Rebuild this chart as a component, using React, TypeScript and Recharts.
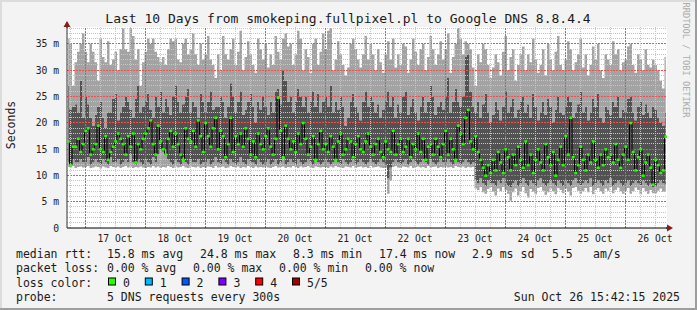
import { ComposedChart, Area, Line, XAxis, YAxis, ReferenceLine } from 'recharts';

// hours from the left edge of the graph to 17 Oct 00:00
const FIRST_MIDNIGHT = 7.2;
const HOURS = 240;
const MONO = '"DejaVu Sans Mono", monospace';

const dayLabels = ['17 Oct', '18 Oct', '19 Oct', '20 Oct', '21 Oct', '22 Oct', '23 Oct', '24 Oct', '25 Oct', '26 Oct'];
const yTicks = [0, 5, 10, 15, 20, 25, 30, 35];

// hourly rtt values in ms, from 16 Oct ~17:00 to 26 Oct ~16:00
const pingMin = [
  11.6, 11.5, 11.8, 11.4, 11.6, 11.7, 11.5,
  11.6, 11.8, 11.4, 11.5, 11.7, 11.6, 11.3, 11.7, 11.5, 11.4, 11.8, 11.6, 11.5, 11.7, 11.4, 11.6, 11.8, 11.5, 11.7, 11.4, 11.6, 11.5, 11.7, 11.5,
  11.4, 11.6, 11.5, 11.8, 11.5, 11.7, 11.4, 11.6, 11.5, 11.8, 11.6, 11.4, 11.7, 11.5, 11.6, 11.8, 11.5, 11.4, 11.7, 11.6, 11.5, 11.7, 11.4, 11.6,
  11.5, 11.7, 11.6, 11.4, 11.8, 11.5, 11.6, 11.7, 11.4, 11.5, 11.8, 11.6, 11.5, 11.7, 11.4, 11.6, 11.5, 11.8, 11.6, 11.4, 11.7, 11.5, 11.6, 11.5,
  11.7, 11.5, 11.4, 11.6, 11.8, 11.5, 11.6, 11.7, 11.4, 11.6, 11.5, 11.8, 11.6, 11.4, 11.7, 11.5, 11.6, 11.8, 11.5, 11.4, 11.7, 11.6, 11.5, 11.6,
  11.6, 11.4, 11.7, 11.5, 11.8, 11.6, 11.5, 11.4, 11.7, 11.6, 11.5, 11.8, 11.4, 11.6, 11.7, 11.5, 11.6, 11.4, 11.8, 11.5, 11.6, 11.7, 11.5, 11.4,
  11.5, 6.5, 9, 11.6, 11.8, 11.5, 11.4, 11.7, 11.6, 11.5, 11.8, 11.4, 11.6, 11.7, 11.5, 11.6, 11.4, 11.8, 11.5, 11.6, 11.7, 11.4, 11.6, 11.5,
  11.7, 11.5, 11.6, 11.4, 11.8, 11.6, 11.5, 11.7, 11.4, 11.6, 11.5, 11.6, 7.5, 7.2, 7.8, 6.8, 6.5, 7.4, 7.8, 6.9, 6.2, 7.5, 7, 7.8,
  7.2, 6.5, 5.2, 6.8, 7.5, 6.2, 7, 7.8, 6.6, 5.8, 7.4, 6.9, 6.4, 7.6, 7.8, 7.1, 6.3, 6.8, 7.5, 7, 6.4, 7.6, 7.2, 6.6,
  7.5, 6.9, 6.2, 7.6, 7.8, 7.1, 6.5, 7, 7.6, 6.8, 7.8, 6.4, 7.2, 7.6, 7, 6.5, 7.5, 7.1, 7.8, 6.6, 7.2, 7.7, 7, 6.5,
  7.1, 7.6, 6.5, 7, 7.7, 7.2, 6.4, 7.6, 7, 6.5, 7.2, 6.6, 6.6, 7.1, 7.5, 6.9, 6.9,
];

const smokeLo = [
  12.5, 12, 13, 12.5, 12.5, 13, 12.5,
  12.5, 13.5, 12, 12.5, 13, 12.5, 12, 13, 12.5, 12, 13.5, 12.5, 12.5, 13, 12, 12.5, 13, 12.5, 14, 12.5, 12, 13, 12.5, 12,
  13, 12.5, 12, 13.5, 12.5, 14, 15, 14.5, 15, 13, 12.5, 12, 13, 12.5, 12, 13.5, 12.5, 12, 13, 12.5, 12.5, 13, 12, 12.5,
  12.5, 13, 12, 12.5, 13.5, 12.5, 12, 13, 12.5, 12, 13, 12.5, 12, 12.5, 13.5, 12.5, 12, 13, 12.5, 12.5, 12, 13, 12.5, 12,
  12.5, 13, 12, 12.5, 13, 12, 12.5, 13.5, 12, 12.5, 13, 12.5, 12, 13, 12.5, 12, 12.5, 13, 12.5, 12, 13, 12.5, 12, 12.5,
  13, 12.5, 12, 12.5, 13, 12.5, 12, 13, 12.5, 12, 12.5, 13, 12, 12.5, 13, 12.5, 12, 12.5, 13, 12.5, 12, 12.5, 13, 12.5,
  12, 9.5, 11.5, 12.5, 13, 12.5, 12, 12.5, 13, 12, 12.5, 13, 12.5, 12, 12.5, 13, 12.5, 12, 13, 12.5, 12, 12.5, 13, 12.5,
  12.5, 13, 12.5, 12, 13, 12.5, 12, 12.5, 13, 12.5, 12, 12.5, 9, 8.5, 9.5, 8.5, 8, 9, 8.5, 8.5, 8, 9, 8.5, 9.5,
  8.5, 8, 7.8, 8.5, 9, 8, 8.5, 9.5, 8.5, 8, 9, 8.5, 8, 9, 9.5, 8.5, 8, 8.5, 9, 8.5, 8, 9, 8.5, 8,
  9, 8.5, 8, 9, 9.5, 8.5, 8, 8.5, 9, 8.5, 9.5, 8, 8.5, 9, 8.5, 8, 9, 8.5, 9.5, 8, 8.5, 9, 8.5, 8,
  8.5, 9, 8, 8.5, 9, 8.5, 8, 9, 8.5, 8, 8.5, 7.8, 8, 8.5, 9, 8.5, 8.2,
];

const smokeHi = [
  27, 22.5, 23, 23.5, 22, 28, 21,
  25, 23.5, 21, 19.5, 21.5, 23, 24, 21, 19, 22, 22, 24.5, 25.5, 20.5, 22, 23, 25, 24, 22.5, 21, 24.5, 27, 22, 23,
  24, 25.5, 22.5, 21, 25, 23, 26, 22, 24.5, 23, 21.5, 25, 27, 24, 22, 23.5, 25, 26.5, 22, 24, 23, 21, 25.5, 24,
  22, 24, 26, 22.5, 23, 23, 25, 24, 21, 23, 27.5, 25, 22, 24, 26, 21.5, 22.5, 24, 25.5, 23, 20, 24, 22.5, 25,
  23, 21.5, 24, 22, 26, 26.5, 23.5, 30, 28, 24, 25, 22, 24, 26.5, 25, 23, 25, 22, 24, 26, 23, 25.5, 22, 24,
  25, 23, 27, 22, 24, 22.5, 25, 23, 19.5, 21, 24, 25.5, 23, 22, 20.5, 24, 26, 23, 25, 24, 22, 23.5, 21, 22.5,
  24, 26, 23, 25, 21, 23.5, 22, 25, 26, 21.5, 23, 24.5, 22, 20.5, 23, 25, 22, 24, 27, 25, 21.5, 23, 24, 22.5,
  25, 28.5, 22, 24, 26.5, 24, 23, 25, 32.5, 33, 26, 23, 22, 24, 21, 23.5, 25.5, 22, 20, 21.5, 24, 22.5, 20.5, 23,
  26, 22, 23, 24.5, 21, 22.5, 24, 25, 22, 23.5, 21, 25.5, 23, 20.5, 22, 24, 21.5, 24.5, 23, 20, 22.5, 25, 22, 21.5,
  23, 25, 24, 21, 22, 23.5, 26, 22, 23, 20.5, 22, 24.5, 23, 25.5, 21, 20, 23, 22.5, 21.5, 24, 23, 25, 21, 22.5,
  22, 24.5, 25, 22, 20.5, 23, 24, 21.5, 23.5, 22, 21, 23, 22.5, 21, 20, 19.5, 22,
];

const pingMax = [
  36, 35, 27, 31.5, 33.5, 35, 37,
  33.5, 31.5, 35, 33.5, 31.5, 28, 36, 32.5, 31.5, 35.5, 31, 32, 33.5, 30, 34, 38, 34, 33.5, 38, 36.5, 32, 34, 27, 31.5,
  33.5, 36, 35, 36, 33.5, 32.5, 31.5, 32.5, 31, 34, 36, 35.5, 36, 32, 31.5, 35, 36, 33, 34, 37, 33, 31, 35, 32,
  33, 36.5, 32, 31, 28.5, 33, 30, 36.5, 33, 32, 34, 36, 31, 33.5, 37.5, 30, 32.5, 35.5, 33, 31, 29.5, 36, 34, 32,
  35, 30.5, 33, 31, 36.5, 33.5, 32, 36, 37, 34.5, 35, 31, 33, 37.5, 36, 30, 34, 32.5, 29.5, 35, 36, 31, 33.5, 37,
  34, 37.5, 38, 30, 32, 35.5, 33, 31, 29, 30.5, 35, 36, 34, 32, 30.5, 33, 36.5, 32, 35, 33, 30, 34, 31.5, 29.5,
  33, 35.5, 32, 36, 30.5, 33, 31, 35, 34.5, 29.5, 32, 36, 33.5, 31, 34, 35, 30, 32.5, 36.5, 34, 31, 33, 35.5, 32,
  34, 37, 29.5, 32.5, 35, 38, 36, 33, 35.5, 35, 34, 30.5, 27, 33, 31.5, 35, 34, 31, 28.5, 30.5, 33, 31.5, 29, 33.5,
  36.5, 30, 32.5, 34, 28, 31, 33, 34.5, 30, 33, 31.5, 36, 32, 29.5, 31, 34, 29, 35, 32, 30, 33.5, 36.5, 31, 30,
  32, 35.5, 34, 30, 31.5, 33, 36, 30.5, 33, 29, 31, 34.5, 32, 35, 30, 28.5, 33, 32, 31, 35.5, 33, 34, 30, 31.5,
  32, 34.5, 35, 31, 29.5, 33, 32, 30, 34, 31, 30.5, 32, 31, 30, 28, 26.5, 32.5,
];

const median = [
  16.5, 12, 15.5, 15.5, 17, 14.5, 16,
  18.5, 19, 14, 15, 16, 19.5, 15, 14.5, 17.5, 13, 14.5, 15.5, 16.5, 18, 17, 16, 14, 17.5, 15.5, 18, 12.5, 16, 15, 17,
  18, 19, 20.5, 16, 14, 19.5, 16.5, 15, 14, 17, 18.5, 15.5, 18, 16, 14, 13, 19, 17, 16.5, 18.5, 15.5, 20.5, 17.5, 14.5,
  20, 17.5, 15.5, 19, 21, 15, 18.5, 17.5, 13.5, 16, 21, 14.5, 17.5, 16, 18, 15.5, 19, 17, 14, 16.5, 13.5, 18, 16, 15,
  17.5, 19, 15.5, 14, 17, 24.8, 18.5, 13.5, 19.5, 17, 15, 16.5, 14.5, 18, 16, 20, 17, 14, 15.5, 17.5, 13, 16, 18.5, 15,
  16, 14.5, 17.5, 15.5, 13, 16.5, 18, 14, 15, 17, 16.5, 13.5, 16, 17.5, 15, 14.5, 16.5, 18, 15.5, 14, 16, 17, 14.5, 13.5,
  16.5, 15, 14.5, 18.5, 14, 16, 17, 14.5, 15.5, 17, 13.5, 16, 15, 18, 14.5, 17, 13, 15.5, 16, 14, 17, 15.5, 13.5, 16,
  18.5, 14, 17, 15, 13, 19.5, 18, 16, 21, 22.5, 16.5, 15, 17.5, 14.5, 13, 11.5, 10, 12, 10.5, 13, 11, 14.5, 12.5, 10.5,
  15, 13.5, 11, 14, 12, 15.5, 13, 11.5, 16.5, 12, 14, 10.5, 13, 15, 12.5, 11, 16, 13.5, 12, 14.5, 10, 13, 15.5, 12,
  17.5, 14, 21, 13.5, 10.5, 12, 15.5, 13, 11, 14, 12.5, 16.5, 13, 11.5, 14, 12, 15, 13.5, 14, 12.5, 16, 13, 11.5, 14,
  15.5, 13, 20, 14.5, 11, 13.5, 15, 10, 12.5, 14, 11.5, 8.3, 13, 12, 10.5, 11, 17.4,
];

const LOSS_COLORS = ['#26ff00', '#00b8ff', '#0059ff', '#7e00ff', '#ff0000', '#a10000'];
const LOSS_LABELS = ['0', '1', '2', '3', '4', '5/5'];

const data = median.map((m, i) => ({
  t: i + 0.5,
  base: pingMin[i],
  lowBand: smokeLo[i] - pingMin[i],
  midBand: smokeHi[i] - smokeLo[i],
  topBand: pingMax[i] - smokeHi[i],
  median: m,
}));

const noonTicks = dayLabels.map((_, k) => FIRST_MIDNIGHT + 12 + 24 * k);
// 6-hour grid from the first 6 h mark; every fourth one is a midnight
const gridHours = Array.from({ length: 40 }, (_, k) => FIRST_MIDNIGHT - 6 + 6 * k);
const gridMs = Array.from({ length: 38 }, (_, k) => k + 1);

const GRID = '#c6c6c6';
const MGRID = '#f05050';

// draw the grid line ourselves so the colour and dash are kept as given
const gridShape = (color: string, dash: string) => (p: any) => (
  <line
    x1={p.x1}
    y1={p.y1}
    x2={p.x2}
    y2={p.y2}
    stroke={color}
    strokeWidth={1}
    strokeDasharray={dash}
    shapeRendering="crispEdges"
  />
);

const minorLine = gridShape(GRID, '1 1');
const majorLine = gridShape(MGRID, '2 1');

const MedianDot = (props: any) => {
  const { cx, cy, index } = props;
  if (cx == null || cy == null) return <g key={`m${index}`} />;
  return <rect key={`m${index}`} x={cx - 1.5} y={cy - 1} width={3} height={2.5} fill={LOSS_COLORS[0]} />;
};

const DayTick = (props: any) => (
  <text x={props.x} y={props.y + 11} textAnchor="middle" fontSize={9.7} fontFamily={MONO} fill="#222">
    {dayLabels[props.index]}
  </text>
);

const MsTick = (props: any) => {
  const v = props.payload.value;
  return (
    <text x={props.x} y={props.y + 3.5} textAnchor="end" fontSize={9.7} fontFamily={MONO} fill="#222">
      {v === 0 ? '0' : `${v} m`}
    </text>
  );
};

const legendText = { fontFamily: MONO, fontSize: 11.5, fill: '#1a1a1a' } as const;

export default function App() {
  return (
    <div style={{ position: 'absolute', left: 0, top: 0, width: 697, height: 310, background: '#f3f3f3' }}>
      <div style={{ position: 'absolute', left: 67, top: 27, width: 600, height: 201, background: '#fff' }} />
      <div style={{ position: 'absolute', left: 0, top: 0 }}>
        <ComposedChart width={697} height={310} data={data} margin={{ top: 27, right: 30, bottom: 0, left: 0 }}>
          <XAxis
            type="number"
            dataKey="t"
            domain={[0, HOURS]}
            ticks={noonTicks}
            allowDataOverflow
            height={82}
            tickSize={0}
            tickMargin={3}
            tickLine={false}
            axisLine={{ stroke: '#000' }}
            tick={DayTick}
          />
          <YAxis
            type="number"
            domain={[0, 38.2]}
            ticks={yTicks}
            allowDataOverflow
            width={67}
            tickSize={0}
            tickMargin={8}
            tickLine={false}
            axisLine={{ stroke: '#333' }}
            tick={MsTick}
          />
          <Area dataKey="base" stackId="smoke" type="step" stroke="none" fill="none" fillOpacity={0} isAnimationActive={false} />
          <Area dataKey="lowBand" stackId="smoke" type="step" stroke="none" fill="#a3a3a3" fillOpacity={1} isAnimationActive={false} />
          <Area dataKey="midBand" stackId="smoke" type="step" stroke="none" fill="#525252" fillOpacity={1} isAnimationActive={false} />
          <Area dataKey="topBand" stackId="smoke" type="step" stroke="none" fill="#a3a3a3" fillOpacity={1} isAnimationActive={false} />
          {gridMs.map((v) => (
            <ReferenceLine key={`h${v}`} y={v} shape={v % 5 === 0 ? majorLine : minorLine} />
          ))}
          {gridHours.map((t, k) => (
            <ReferenceLine key={`v${k}`} x={t} shape={k % 4 === 1 ? majorLine : minorLine} />
          ))}
          <Line
            dataKey="median"
            type="step"
            stroke="#000"
            strokeWidth={1}
            dot={MedianDot}
            activeDot={false}
            isAnimationActive={false}
          />
        </ComposedChart>
      </div>
      <svg width={697} height={310} style={{ position: 'absolute', left: 0, top: 0, pointerEvents: 'none' }}>
        <rect x={0} y={0} width={697} height={2} fill="#dcdcdc" />
        <rect x={0} y={0} width={2} height={310} fill="#dcdcdc" />
        <rect x={0} y={308} width={697} height={2} fill="#9e9e9e" />
        <rect x={695} y={0} width={2} height={310} fill="#9e9e9e" />
        <line x1={67} y1={22} x2={67} y2={28} stroke="#333" />
        <polygon points="63.5,27 70.5,27 67,21" fill="#8c1c1c" />
        <line x1={666} y1={228} x2={668} y2={228} stroke="#000" />
        <polygon points="667,224.5 667,231.5 673,228" fill="#8c1c1c" />
        <text x={348} y={23} textAnchor="middle" fontFamily={MONO} fontSize={13} fill="#1a1a1a">
          Last 10 Days from smokeping.fullpixel.pl to Google DNS 8.8.4.4
        </text>
        <text x={15} y={125} transform="rotate(-90 15 125)" textAnchor="middle" fontFamily={MONO} fontSize={11.5} fill="#1a1a1a">
          Seconds
        </text>
        <text x={683} y={60} transform="rotate(90 683 60)" textAnchor="middle" fontFamily={MONO} fontSize={8.7} fill="#ababab">
          RRDTOOL / TOBI OETIKER
        </text>
        <g {...legendText}>
          <text x={16} y={258}>median rtt:</text>
          <text x={107} y={258}>15.8 ms avg</text>
          <text x={200} y={258}>24.8 ms max</text>
          <text x={293} y={258}>8.3 ms min</text>
          <text x={379} y={258}>17.4 ms now</text>
          <text x={472} y={258}>2.9 ms sd</text>
          <text x={552} y={258}>5.5</text>
          <text x={593} y={258}>am/s</text>
          <text x={16} y={272.4}>packet loss:</text>
          <text x={107} y={272.4}>0.00 % avg</text>
          <text x={193} y={272.4}>0.00 % max</text>
          <text x={279} y={272.4}>0.00 % min</text>
          <text x={365} y={272.4}>0.00 % now</text>
          <text x={16} y={286.6}>loss color:</text>
          {LOSS_LABELS.map((l, k) => (
            <g key={l}>
              <rect x={108.5 + 36.8 * k} y={278} width={7} height={7} fill={LOSS_COLORS[k]} stroke="#000" strokeWidth={1} />
              <text x={123 + 36.8 * k} y={286.6}>{l}</text>
            </g>
          ))}
          <text x={16} y={300.8}>probe:</text>
          <text x={107} y={300.8}>5 DNS requests every 300s</text>
          <text x={680} y={300.8} textAnchor="end">Sun Oct 26 15:42:15 2025</text>
        </g>
      </svg>
    </div>
  );
}
